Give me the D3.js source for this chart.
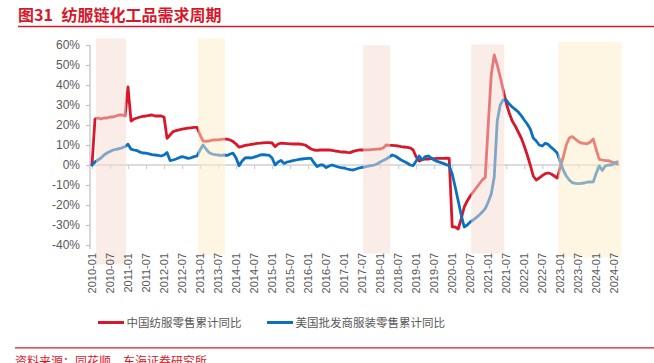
<!DOCTYPE html>
<html><head><meta charset="utf-8">
<script src="https://cdn.jsdelivr.net/npm/d3@7/dist/d3.min.js"></script>
<style>body{margin:0;background:#fff}svg{display:block}</style>
</head><body>
<svg id="chart" width="654" height="363"></svg>
<script>
// ---- data ----
const startMonth = "2010-01";
const chinaApparel = [
  0, 23, 23.5, 23, 23.5, 23.5, 24, 24, 24.5, 25, 25, 24.5,
  39, 22, 23, 23.5, 24, 24.3, 24.5, 24.8, 25, 24.5, 24.6, 24.5,
  24, 13.3, 15, 16.7, 17.2, 17.6, 17.9, 18.2, 18.4, 18.6, 18.8, 18.8,
  15, 12, 11.8, 12, 12.4, 12.6, 12.6, 12.8, 12.9, 12.9, 12.5, 11.7,
  10.5, 8.9, 9.3, 9.8, 10, 10.3, 10.5, 10.8, 10.9, 11.1, 11.2, 11.2,
  11, 9.2, 10.5, 10.9, 10.8, 10.7, 10.6, 10.5, 10.5, 10.5, 10.3, 10,
  9, 8, 7.5, 7.3, 7.5, 7.5, 7.5, 7.5, 7.3, 7, 6.8, 6.5,
  6.5, 6.3, 6.2, 6.8, 7.2, 7.5, 7.5, 7.6, 7.6, 7.7, 7.8, 7.9,
  8, 8.5, 10, 9.8, 9.8, 9.7, 9.5, 9.2, 9, 8.8, 8.6, 7.5,
  4, 2, 2.8, 3, 3, 3.2, 3.2, 3.3, 3.3, 3.3, 3.4, 3.3,
  -30.9, -31, -32, -27, -21, -18, -15.5, -13.5, -11.5, -9.5, -7.5, -6.2,
  20, 45, 55, 50, 44, 37.5, 31, 26, 22, 19.5, 16.5, 13.5,
  9.5, 5, 0, -5.5, -7.5, -6.5, -5.3, -4.3, -4, -4.5, -5.5, -6.5,
  -1, 4, 10, 13.5, 14.2, 13, 11.8, 11, 10.8, 10.6, 11.5, 13,
  7.5, 2.8, 2.5, 2.2, 2.2, 1.6, 1.2, 0.5
];
const usWholesaleApparel = [
  0, 1.5, 2.5, 3.5, 5, 6, 6.8, 7.5, 7.8, 8.2, 8.6, 9.2,
  10.4, 7.9, 7.5, 7.2, 6.4, 6, 5.9, 5.6, 5.2, 5, 4.8, 4.5,
  5, 6.2, 2.2, 2.5, 3, 3.6, 4.2, 3.8, 3.3, 3.6, 4.2, 4.5,
  7.5, 10, 8, 6.2, 5.5, 5.2, 5, 4.8, 5, 4.8, 5.5, 5.9,
  3.5, -0.4, 2, 3.5, 3.7, 3.5, 3.9, 4.4, 5, 5.2, 5, 4.9,
  3.5, 0, 1.5, 2.3, 0.8, 1.5, 1.8, 2.2, 2.5, 2.8, 3, 3.2,
  3.3, 3.3, 1, -0.8, 0, 0, -1.3, -0.5, 0, -0.5, -1, -1.3,
  -1.5, -2, -2.3, -2.5, -2, -1.5, -1.2, -1, -0.5, -0.3, 0, 0.5,
  1.5, 2.2, 3, 4, 5, 4.5, 3.5, 2.5, 1.8, 1, 0, -0.3,
  2, 4.5, 2.5, 4.2, 4.5, 3.5, 2.5, 1.8, 1.3, 0.8, 0.2, -0.3,
  -4.5, -11, -18, -25, -31, -30, -28.5, -27.5, -26.3, -25, -23.5, -21.8,
  -18.5, -14.5, -6, 22, 30, 32.7, 32.5, 30.5, 29, 27.8, 26.5, 24.7,
  22.5, 20.5, 18, 13.5, 12, 10, 9.5, 10.9, 10.3, 8.8, 7.5, 6,
  1.5, -2.5, -5.5, -7.5, -8.8, -9.2, -9.3, -9.2, -9, -8.6, -8.5, -8.4,
  -4, -0.5, -2.7, -0.5, 0, 0, 0.8, 1.7
];
const yTickValues = [60, 50, 40, 30, 20, 10, 0, -10, -20, -30, -40];
const xTickEvery = 6;
const seriesNames = ["中国纺服零售累计同比", "美国批发商服装零售累计同比"];
const seriesColors = ["#d7182a", "#0a70c0"];
const bandFrom = ["2010-02", "2012-12", "2017-07", "2020-07", "2022-12"];
const bandTo   = ["2010-12", "2013-09", "2018-04", "2021-06", "2024-09"];
const bandTop  = [63.3, 63.3, 59.8, 60.3, 61.5];
const bandBottom = [-49.7, -45.2, -44.2, -44.2, -46.2];
const bandKind = ["pink", "yellow", "pink", "pink", "yellow"];
const titleNo = "图31";
const titleText = "纺服链化工品需求周期";
const sourceText = "资料来源：同花顺，东海证券研究所";

// ---- helpers ----
function monthIndex(s) {
  const [y, m] = s.split("-").map(Number);
  const [y0, m0] = startMonth.split("-").map(Number);
  return (y - y0) * 12 + (m - m0);
}
const n = chinaApparel.length;
const months = d3.range(n).map(i => {
  const [y0, m0] = startMonth.split("-").map(Number);
  const t = (m0 - 1) + i;
  return (y0 + Math.floor(t / 12)) + "-" + String(t % 12 + 1).padStart(2, "0");
});

const svg = d3.select("#chart");
const x = d3.scaleLinear().domain([0, n - 1]).range([92, 617.3]);
const y = d3.scaleLinear().domain([-40, 60]).range([245, 45]);
const gray = "#595959";
const fontLatin = "'Liberation Sans', Arial, sans-serif";
const fontCJK = "'Noto Sans CJK SC', 'Noto Sans', sans-serif";

// title
svg.append("text").attr("x", 18).attr("y", 21).attr("fill", "#d7182a")
  .attr("font-family", fontCJK).attr("font-weight", "bold").attr("font-size", 16)
  .text(titleNo);
svg.append("text").attr("x", 61.5).attr("y", 21).attr("fill", "#d7182a")
  .attr("font-family", fontCJK).attr("font-weight", "bold").attr("font-size", 16)
  .text(titleText);
svg.append("line").attr("x1", 18).attr("x2", 654).attr("y1", 26.5).attr("y2", 26.5)
  .attr("stroke", "#d7182a").attr("stroke-width", 1.3);

// y axis
const yAxis = d3.axisLeft(y).tickValues(yTickValues).tickSize(4).tickPadding(6)
  .tickFormat(d => d + "%");
const gy = svg.append("g").attr("transform", "translate(90,0)").call(yAxis);
gy.select(".domain").attr("stroke", "#bfbfbf").attr("stroke-width", 1.2)
  .attr("d", "M0," + y(60) + "V" + 249);
gy.selectAll(".tick line").attr("stroke", "#bfbfbf");
gy.selectAll(".tick text").attr("fill", gray).attr("font-size", 12).attr("font-family", fontLatin);

// x axis at zero
const xTicks = d3.range(0, n, xTickEvery);
const xAxis = d3.axisBottom(x).tickValues(xTicks).tickSize(4).tickFormat("");
const gx = svg.append("g").attr("transform", "translate(0," + y(0) + ")").call(xAxis);
gx.select(".domain").attr("stroke", "#d0d0d0").attr("stroke-width", 1.5)
  .attr("d", "M90,0H620");
gx.selectAll(".tick line").attr("stroke", "#d0d0d0").attr("stroke-width", 1.2);

// lines
const line = d3.line().x((d, i) => x(i)).y(d => y(d));
[chinaApparel, usWholesaleApparel].forEach((s, k) => {
  svg.append("path").datum(s).attr("d", line).attr("fill", "none")
    .attr("stroke", seriesColors[k]).attr("stroke-width", 2.8)
    .attr("stroke-linejoin", "round").attr("stroke-linecap", "round");
});

// shaded bands (overlaid, semi-transparent)
const bandFill = { pink: "#f6d9cf", yellow: "#fdebc6" };
bandFrom.forEach((f, i) => {
  const x0 = x(monthIndex(f)) + 1, x1 = x(monthIndex(bandTo[i])) + 1;
  svg.append("rect").attr("x", x0).attr("width", x1 - x0)
    .attr("y", y(bandTop[i])).attr("height", y(bandBottom[i]) - y(bandTop[i]))
    .attr("fill", bandFill[bandKind[i]]).attr("fill-opacity", 0.5);
});

// x tick labels
svg.append("g").selectAll("text").data(xTicks).join("text")
  .attr("transform", d => "translate(" + (x(d) + 4) + ",253) rotate(-90)")
  .attr("text-anchor", "end").attr("fill", gray).attr("font-size", 11)
  .attr("font-family", fontLatin).text(d => months[d]);

// legend
const legX = [98, 267];
seriesNames.forEach((name, k) => {
  svg.append("line").attr("x1", legX[k]).attr("x2", legX[k] + 26)
    .attr("y1", 322.5).attr("y2", 322.5).attr("stroke", seriesColors[k]).attr("stroke-width", 3);
  svg.append("text").attr("x", legX[k] + 28.5).attr("y", 326.5).attr("fill", gray)
    .attr("font-family", fontCJK).attr("font-size", 11.5).text(name);
});

// source
svg.append("line").attr("x1", 15).attr("x2", 654).attr("y1", 347.8).attr("y2", 347.8)
  .attr("stroke", "#d7182a").attr("stroke-width", 1.3);
svg.append("text").attr("x", 15).attr("y", 366).attr("fill", "#d7182a")
  .attr("font-family", fontCJK).attr("font-size", 12).text(sourceText);
</script>
</body></html>
